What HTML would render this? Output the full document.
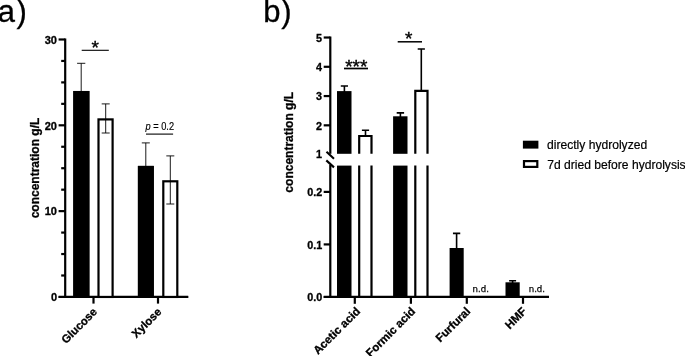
<!DOCTYPE html>
<html><head><meta charset="utf-8"><title>Figure</title>
<style>html,body{margin:0;padding:0;background:#fff;overflow:hidden}svg{display:block}text{font-family:"Liberation Sans",Arial,sans-serif;fill:#000}.b{font-weight:bold;stroke:#000;stroke-width:.3px}.nd{font-family:"DejaVu Sans","Liberation Sans",sans-serif}</style></head><body>
<svg width="685" height="356" viewBox="0 0 685 356">
<rect width="685" height="356" fill="#fff"/>
<text x="-2.2" y="22.4" font-size="31" stroke="#000" stroke-width=".3">a<tspan dx="1.5">)</tspan></text>
<text x="263.3" y="22.4" font-size="31" stroke="#000" stroke-width=".3">b<tspan dx="0.6">)</tspan></text>
<g stroke="#000" stroke-width="2.2" fill="none">
<path d="M65.2 38.49V297.95"/>
<path d="M58.6 296.95H188.2"/>
<path d="M58.6 211.13H65.2"/>
<path d="M58.6 125.31H65.2"/>
<path d="M58.6 39.49H65.2"/>
<path d="M61.2 275.50H65.2"/>
<path d="M61.2 254.04H65.2"/>
<path d="M61.2 232.58H65.2"/>
<path d="M61.2 189.67H65.2"/>
<path d="M61.2 168.22H65.2"/>
<path d="M61.2 146.76H65.2"/>
<path d="M61.2 103.85H65.2"/>
<path d="M61.2 82.40H65.2"/>
<path d="M61.2 60.94H65.2"/>
<path d="M93.5 296.95V303.6"/>
<path d="M158.0 296.95V303.6"/>
</g>
<text class="b" x="57" y="301.15" font-size="11" text-anchor="end">0</text>
<text class="b" x="57" y="215.33" font-size="11" text-anchor="end">10</text>
<text class="b" x="57" y="129.51" font-size="11" text-anchor="end">20</text>
<text class="b" x="57" y="43.69" font-size="11" text-anchor="end">30</text>
<rect x="73.3" y="90.98" width="16.10" height="205.97" fill="#000"/>
<rect x="98.50" y="119.40" width="14.10" height="177.55" fill="#fff" stroke="#000" stroke-width="2.2"/>
<rect x="137.9" y="165.90" width="15.90" height="131.05" fill="#000"/>
<rect x="163.30" y="181.30" width="14.00" height="115.65" fill="#fff" stroke="#000" stroke-width="2.2"/>
<path d="M81.2 63.3V118.66399999999994M77.10000000000001 63.3H85.3M77.10000000000001 118.66399999999994H85.3" stroke="#000" stroke-width="0.9" fill="none"/>
<path d="M105.7 103.9V133.0M101.7 103.9H109.7M101.7 133.0H109.7" stroke="#000" stroke-width="0.9" fill="none"/>
<path d="M145.8 142.9V188.9M141.8 142.9H149.8M141.8 188.9H149.8" stroke="#000" stroke-width="0.9" fill="none"/>
<path d="M170.3 155.9V204.0M166.3 155.9H174.3M166.3 204.0H174.3" stroke="#000" stroke-width="0.9" fill="none"/>
<rect x="73.3" y="90.98" width="16.10" height="205.97" fill="#000"/>
<rect x="137.9" y="165.90" width="15.90" height="131.05" fill="#000"/>
<path d="M58.6 296.95H188.2" stroke="#000" stroke-width="2"/>
<path d="M81.7 50.3H108.8" stroke="#000" stroke-width="1.1"/>
<text x="95.3" y="54.2" font-size="19" text-anchor="middle" stroke="#000" stroke-width=".4">*</text>
<path d="M146 134.1H173.1" stroke="#000" stroke-width="1.1"/>
<text x="159.8" y="130.3" font-size="10.8" text-anchor="middle" textLength="28.6" lengthAdjust="spacingAndGlyphs" stroke="#000" stroke-width=".15"><tspan font-style="italic">p</tspan> = 0.2</text>
<text class="b" font-size="12" text-anchor="middle" transform="translate(39.1 168) rotate(-90)">concentration g/L</text>
<text class="b" font-size="11.4" text-anchor="end" transform="translate(97.8 312.5) rotate(-45)">Glucose</text>
<text class="b" font-size="11.4" text-anchor="end" transform="translate(162.3 312.5) rotate(-45)">Xylose</text>
<g stroke="#000" stroke-width="2.2" fill="none">
<path d="M330.3 36.52V153.8"/>
<path d="M330.3 165.0V297.95"/>
<path d="M323.7 296.95H549"/>
<path d="M323.7 125.33H330.3"/>
<path d="M323.7 96.06H330.3"/>
<path d="M323.7 66.79H330.3"/>
<path d="M323.7 37.52H330.3"/>
<path d="M323.7 244.42H330.3"/>
<path d="M323.7 191.89H330.3"/>
<path d="M354.8 296.95V303.8"/>
<path d="M410.9 296.95V303.8"/>
<path d="M466.8 296.95V303.8"/>
<path d="M523.0 296.95V303.8"/>
</g>
<g stroke="#000" stroke-width="2.1" fill="none"><path d="M326.5 151.8L334 158.8"/><path d="M326.3 160.4L334 167.4"/></g>
<text class="b" x="322.0" y="158.30" font-size="10.8" text-anchor="end">1</text>
<text class="b" x="322.0" y="129.63" font-size="10.8" text-anchor="end">2</text>
<text class="b" x="322.0" y="100.36" font-size="10.8" text-anchor="end">3</text>
<text class="b" x="322.0" y="71.09" font-size="10.8" text-anchor="end">4</text>
<text class="b" x="322.0" y="41.82" font-size="10.8" text-anchor="end">5</text>
<text class="b" x="322.2" y="301.15" font-size="10.8" text-anchor="end">0.0</text>
<text class="b" x="322.2" y="248.62" font-size="10.8" text-anchor="end">0.1</text>
<text class="b" x="322.2" y="196.09" font-size="10.8" text-anchor="end">0.2</text>
<rect x="337.0" y="91.10" width="14.50" height="62.70" fill="#000"/>
<rect x="337.0" y="165.60" width="14.50" height="131.35" fill="#000"/>
<path d="M344.4 86.0V92M340.79999999999995 86.0H348.0" stroke="#000" stroke-width="1.6" fill="none"/>
<path d="M359.2 153.8V136.0H371.5V153.8M359.2 165.6V296.95M371.5 165.6V296.95" stroke="#000" stroke-width="2.2" fill="none"/>
<path d="M365.5 130.2V135M361.9 130.2H369.1" stroke="#000" stroke-width="1.6" fill="none"/>
<rect x="393.1" y="116.30" width="14.40" height="37.50" fill="#000"/>
<rect x="393.1" y="165.60" width="14.40" height="131.35" fill="#000"/>
<path d="M400.4 112.9V117M396.7 112.9H404.09999999999997" stroke="#000" stroke-width="1.6" fill="none"/>
<path d="M415.3 153.8V90.8H427.5V153.8M415.3 165.6V296.95M427.5 165.6V296.95" stroke="#000" stroke-width="2.2" fill="none"/>
<path d="M421.3 49.0V91M417.7 49.0H424.90000000000003" stroke="#000" stroke-width="1.6" fill="none"/>
<rect x="449.6" y="248.00" width="14.10" height="48.95" fill="#000"/>
<path d="M456.6 233.4V249M452.95000000000005 233.4H460.25" stroke="#000" stroke-width="1.6" fill="none"/>
<rect x="505.5" y="282.30" width="14.20" height="14.65" fill="#000"/>
<path d="M512.6 280.8V283M509.1 280.8H516.1" stroke="#000" stroke-width="1.6" fill="none"/>
<path d="M323.7 296.95H549" stroke="#000" stroke-width="2"/>
<text class="nd" x="472.6" y="292.0" font-size="8.6" stroke="#000" stroke-width=".25">n.d.</text>
<text class="nd" x="528.7" y="292.0" font-size="8.6" stroke="#000" stroke-width=".25">n.d.</text>
<path d="M344 68.5H368" stroke="#000" stroke-width="1.7"/>
<text x="356.3" y="72.5" font-size="19" text-anchor="middle" stroke="#000" stroke-width=".4">***</text>
<path d="M397.7 41.8H422" stroke="#000" stroke-width="1.5"/>
<text x="408.6" y="45.0" font-size="19" text-anchor="middle" stroke="#000" stroke-width=".4">*</text>
<text class="b" font-size="12" text-anchor="middle" transform="translate(293.2 142.3) rotate(-90)">concentration g/L</text>
<text class="b" font-size="11.5" text-anchor="end" transform="translate(360.90000000000003 312.1) rotate(-45)">Acetic acid</text>
<text class="b" font-size="11.5" text-anchor="end" transform="translate(416.09999999999997 312.1) rotate(-45)">Formic acid</text>
<text class="b" font-size="11.5" text-anchor="end" transform="translate(471.1 312.1) rotate(-45)">Furfural</text>
<text class="b" font-size="11.5" text-anchor="end" transform="translate(527.3 312.1) rotate(-45)">HMF</text>
<rect x="522.9" y="140.7" width="15.5" height="7.9" fill="#000"/>
<rect x="524.0" y="161.1" width="13.3" height="5.8" fill="#fff" stroke="#000" stroke-width="2.2"/>
<text x="547.0" y="149.2" font-size="12.1" stroke="#000" stroke-width=".2">directly hydrolyzed</text>
<text x="547.2" y="168.9" font-size="12.1" stroke="#000" stroke-width=".2">7d dried before hydrolysis</text>
</svg></body></html>
